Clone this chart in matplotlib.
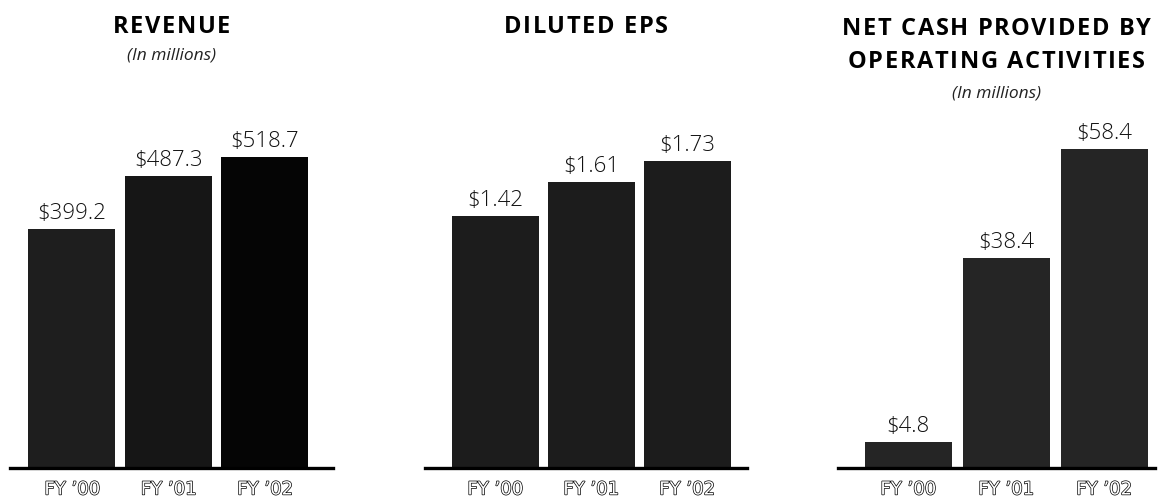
import matplotlib
matplotlib.use("Agg")
import matplotlib.pyplot as plt
import matplotlib.patheffects as pe

# ─── Data ─────────────────────────────────────────────────────────────────────

years = ["FY ’00", "FY ’01", "FY ’02"]

revenue = [399.2, 487.3, 518.7]
diluted_eps = [1.42, 1.61, 1.73]
net_cash = [4.8, 38.4, 58.4]

revenue_labels = ["$399.2", "$487.3", "$518.7"]
eps_labels = ["$1.42", "$1.61", "$1.73"]
cash_labels = ["$4.8", "$38.4", "$58.4"]

# ─── Layout (pixels) ──────────────────────────────────────────────────────────

W, H = 1162, 500
BASE_Y = 468          # baseline of all panels
TOP_Y = 100           # top of axes boxes
BAR_PX = 87
TRACK_PX = 1.6        # letter spacing of the bold headings

PANELS = [
    dict(values=revenue, labels=revenue_labels, left=10, right=333,
         c0=72, pitch=96.5, scale=0.599,
         colors=["#1e1e1e", "#161616", "#050505"],
         title=["REVENUE"], sub=True, title_y=[27], sub_y=55),
    dict(values=diluted_eps, labels=eps_labels, left=425, right=747,
         c0=495, pitch=96, scale=177.5,
         colors=["#1c1c1c", "#1c1c1c", "#1c1c1c"],
         title=["DILUTED EPS"], sub=False, title_y=[27], sub_y=None),
    dict(values=net_cash, labels=cash_labels, left=838, right=1155,
         c0=908, pitch=98, scale=5.465,
         colors=["#252525", "#252525", "#252525"],
         title=["NET CASH PROVIDED BY", "OPERATING ACTIVITIES"], sub=True,
         title_y=[29, 62], sub_y=94),
]


def spaced_title(fig, cx_px, cy_px, s, track, **kw):
    """Draw a heading centred at (cx_px, cy_px) with extra letter spacing."""
    r = fig.canvas.get_renderer()
    widths = []
    for ch in s:
        t = fig.text(0, 0, ch if ch != " " else "I I", **kw)
        w = t.get_window_extent(r).width
        if ch == " ":
            t2 = fig.text(0, 0, "II", **kw)
            w = w - t2.get_window_extent(r).width
            t2.remove()
        widths.append(w)
        t.remove()
    total = sum(widths) + track * (len(s) - 1)
    x = cx_px - total / 2
    for ch, w in zip(s, widths):
        if ch != " ":
            fig.text(x / W, 1 - cy_px / H, ch, ha="left", va="center", **kw)
        x += w + track


fig = plt.figure(figsize=(W / 100, H / 100), dpi=100)
fig.patch.set_facecolor("white")

for p in PANELS:
    ax = fig.add_axes([p["left"] / W, 1 - BASE_Y / H,
                       (p["right"] - p["left"]) / W, (BASE_Y - TOP_Y) / H])
    x = list(range(len(years)))
    ax.bar(x, p["values"], width=BAR_PX / p["pitch"], color=p["colors"],
           edgecolor="none", zorder=2)

    ax.set_xlim((p["left"] - p["c0"]) / p["pitch"],
                (p["right"] - p["c0"]) / p["pitch"])
    ax.set_ylim(0, (BASE_Y - TOP_Y) / p["scale"])

    for xi, v, lab in zip(x, p["values"], p["labels"]):
        ax.annotate(lab, (xi, v), xytext=(0, 3.5), textcoords="offset points",
                    ha="center", va="bottom", fontsize=16,
                    family="Open Sans", fontweight="light", color="#111111")

    for s in ("top", "right", "left"):
        ax.spines[s].set_visible(False)
    ax.spines["bottom"].set_linewidth(2.4)
    ax.spines["bottom"].set_color("black")
    ax.spines["bottom"].set_zorder(3)
    ax.set_yticks([])
    ax.set_xticks(x)
    ax.set_xticklabels(years, fontsize=13, family="DejaVu Sans",
                       color="white")
    for t in ax.get_xticklabels():
        t.set_path_effects([pe.Stroke(linewidth=1.0, foreground="black"),
                            pe.Normal()])
    ax.tick_params(axis="x", length=0, pad=9)
    ax.set_facecolor("none")

    cx = (p["left"] + p["right"]) / 2
    for line, ty in zip(p["title"], p["title_y"]):
        spaced_title(fig, cx, ty, line, TRACK_PX, fontsize=17,
                     fontweight="bold", family="Open Sans", color="black")
    if p["sub"]:
        fig.text(cx / W, 1 - p["sub_y"] / H, "(In millions)", ha="center",
                 va="center", fontsize=12.5, style="italic",
                 family="Open Sans", color="#222222")

fig.savefig("out.png", dpi=100)
